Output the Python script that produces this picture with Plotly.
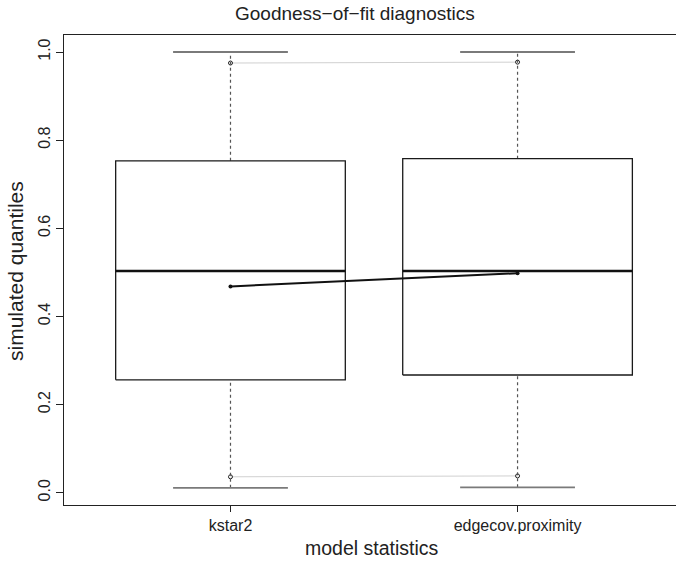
import plotly.graph_objects as go

# ---- data ----
categories = ["kstar2", "edgecov.proximity"]
q1 = [0.256, 0.267]
median = [0.503, 0.503]
q3 = [0.753, 0.758]
whisker_low = [0.011, 0.012]
whisker_high = [1.0, 1.0]
obs = [0.468, 0.498]
lower_band = [0.036, 0.038]
upper_band = [0.975, 0.977]
yticks = [0.0, 0.2, 0.4, 0.6, 0.8, 1.0]
ytick_labels = ["0.0", "0.2", "0.4", "0.6", "0.8", "1.0"]

pos = [i + 1 for i in range(len(categories))]
half_box = 0.4
half_staple = 0.2

fig = go.Figure()

# gray band lines
for band in (lower_band, upper_band):
    fig.add_trace(go.Scatter(x=pos, y=band, mode="lines+markers",
                             line=dict(color="#d0d0d0", width=1),
                             marker=dict(symbol="circle-open", size=4, color="#222",
                                         line=dict(width=1, color="#222")),
                             hoverinfo="skip", showlegend=False))

for i, p in enumerate(pos):
    # whiskers (dotted)
    fig.add_trace(go.Scatter(x=[p, p], y=[q3[i], whisker_high[i]], mode="lines",
                             line=dict(color="#555", width=1.2, dash="dot"),
                             hoverinfo="skip", showlegend=False))
    fig.add_trace(go.Scatter(x=[p, p], y=[whisker_low[i], q1[i]], mode="lines",
                             line=dict(color="#555", width=1.2, dash="dot"),
                             hoverinfo="skip", showlegend=False))
    # staples
    for w in (whisker_low[i], whisker_high[i]):
        fig.add_trace(go.Scatter(x=[p - half_staple, p + half_staple], y=[w, w], mode="lines",
                                 line=dict(color="#7a7a7a", width=1.8),
                                 hoverinfo="skip", showlegend=False))
    # box
    fig.add_trace(go.Scatter(x=[p - half_box, p + half_box, p + half_box, p - half_box, p - half_box],
                             y=[q1[i], q1[i], q3[i], q3[i], q1[i]], mode="lines",
                             line=dict(color="#1a1a1a", width=1.3),
                             hoverinfo="skip", showlegend=False))
    # median
    fig.add_trace(go.Scatter(x=[p - half_box, p + half_box], y=[median[i], median[i]], mode="lines",
                             line=dict(color="#111", width=2.6),
                             hoverinfo="skip", showlegend=False))

# observed line
fig.add_trace(go.Scatter(x=pos, y=obs, mode="lines+markers",
                         line=dict(color="#111", width=2),
                         marker=dict(size=4, color="#111"),
                         hoverinfo="skip", showlegend=False))

font = "Liberation Sans, Arial, Helvetica, sans-serif"
W, H = 676, 562
L, T, B = 64, 35, 57
PW, PH = W - L, H - T - B
fig.update_layout(
    width=W, height=H, autosize=False,
    margin=dict(l=L, r=0, t=T, b=B, pad=0, autoexpand=False),
    paper_bgcolor="white", plot_bgcolor="white",
    font=dict(family=font, color="#222"),
    xaxis=dict(range=[0.42, 2.552], tickvals=pos, ticktext=categories, automargin=False,
               showline=True, mirror=True, linecolor="#222", linewidth=1.2,
               ticks="outside", ticklen=6, tickcolor="#222",
               showgrid=False, zeroline=False, tickfont=dict(size=16, color="#222")),
    yaxis=dict(range=[-0.028, 1.0386], tickvals=yticks, ticktext=ytick_labels, automargin=False,
               showline=True, mirror=False, linecolor="#222", linewidth=1.2,
               ticks="outside", ticklen=7, tickcolor="#222", tickangle=-90,
               showgrid=False, zeroline=False, tickfont=dict(size=16, color="#222")),
    annotations=[
        dict(text="Goodness\u2212of\u2212fit diagnostics", xref="paper", yref="paper",
             x=(355 - L) / PW, y=(H - B - 13) / PH, xanchor="center", yanchor="middle",
             showarrow=False, font=dict(size=19, color="#222")),
        dict(text="model statistics", xref="paper", yref="paper",
             x=(372 - L) / PW, y=(H - B - 548) / PH, xanchor="center", yanchor="middle",
             showarrow=False, font=dict(size=19.5, color="#222")),
        dict(text="simulated quantiles", xref="paper", yref="paper",
             x=(15 - L) / PW, y=(H - B - 271) / PH, xanchor="center", yanchor="middle",
             textangle=-90, showarrow=False, font=dict(size=21, color="#222")),
    ],
)

fig.write_html("out.html",
               config={"displayModeBar": False, "responsive": False},
               post_script="document.body.style.margin='0';document.body.style.overflow='hidden';")
